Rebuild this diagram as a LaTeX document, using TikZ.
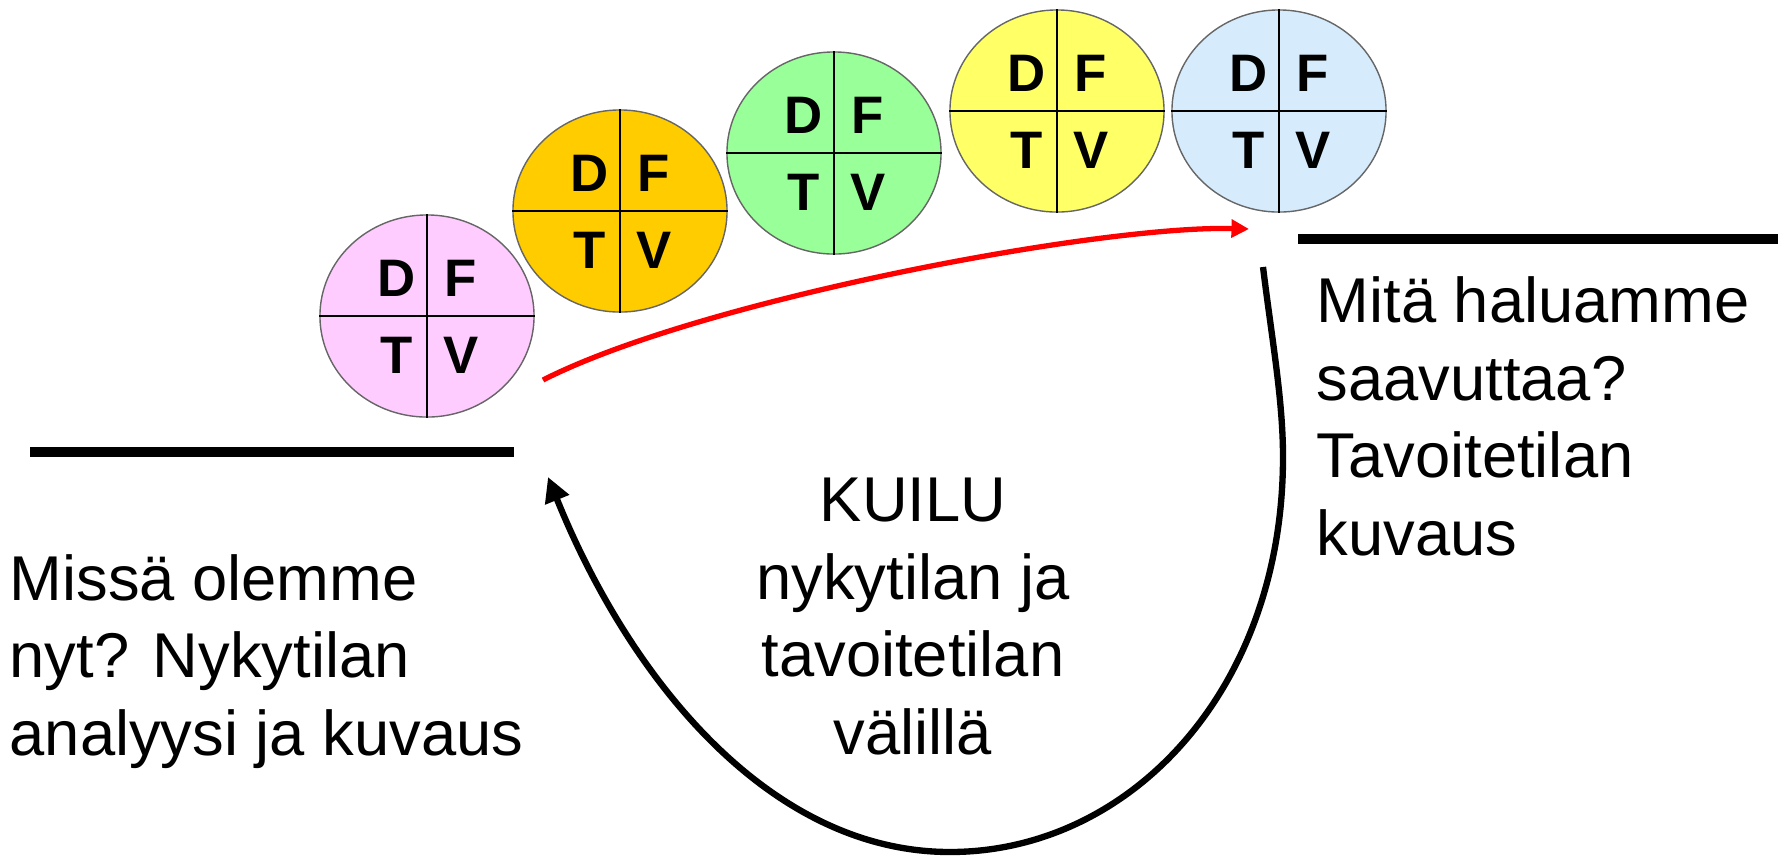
\documentclass[tikz,border=0pt]{standalone}
\usepackage{fontspec}
\setmainfont{Liberation Sans}
\usetikzlibrary{shapes.geometric,arrows.meta}
\definecolor{pinkki}{RGB}{255,204,255}
\definecolor{oranssi}{RGB}{255,204,0}
\definecolor{vihrea}{RGB}{153,255,153}
\definecolor{keltainen}{RGB}{255,255,102}
\definecolor{sininen}{RGB}{214,236,252}

\begin{document}
\begin{tikzpicture}[x=0.01cm,y=-0.01cm,
    pallo/.style={ellipse,draw=black!60,thin,minimum width=2.14cm,minimum height=2.02cm,inner sep=0pt},
    kirjain/.style={font=\fontsize{15}{18}\selectfont\bfseries,inner sep=0pt},
    teksti/.style={font=\fontsize{18}{22}\selectfont,inner sep=0pt},
    taso/.style={line width=2.6pt}]
        \useasboundingbox (0,0) rectangle (1778,857);
        \foreach \n/\x/\y/\c in {1/427/316/pinkki,2/620/211/oranssi,3/834/153/vihrea,4/1057/111/keltainen,5/1279/111/sininen}
        {
        \node[pallo,fill=\c] (p\n) at (\x,\y) {};
        \draw[thin] (p\n.north) -- (p\n.south) (p\n.west) -- (p\n.east);
        \node[kirjain] (p\n d) at ([shift={(-30,-38)}]p\n.center) {D};
        \node[kirjain] (p\n f) at ([shift={(34,-38)}]p\n.center) {F};
        \node[kirjain] (p\n t) at ([shift={(-30,39)}]p\n.center) {T};
        \node[kirjain] (p\n v) at ([shift={(34,39)}]p\n.center) {V};
        }

        \coordinate (nytA) at (30,452);
        \coordinate (nytB) at (514,452);
        \coordinate (tavA) at (1298,239);
        \coordinate (tavB) at (1778,239);
        \draw[taso] (nytA) -- (nytB);
        \draw[taso] (tavA) -- (tavB);

        \coordinate (punaA) at (543,380);
        \coordinate (punaB) at (1249,229);
        \draw[red,line width=1.5pt,-{Triangle[length=5pt,width=5pt]}]
            (punaA) .. controls (700,300) and (1100,225) .. (punaB);

        \coordinate (kuiluA) at (1263,267);
        \coordinate (kuiluB) at (548,477);
        \draw[line width=1.8pt,-{Triangle[length=7pt,width=7pt]}]
            (kuiluA) .. controls (1272,340) and (1283,400) .. (1283,457)
            .. controls (1283,690) and (1130,852) .. (950,852)
            .. controls (770,852) and (630,680) .. (kuiluB);

        \node[teksti,anchor=base west,align=left] (nyt) at (9,755) {Missä olemme\\nyt? Nykytilan\\analyysi ja kuvaus};
        \node[teksti,anchor=base west,align=left] (tavoite) at (1316,555) {Mitä haluamme\\saavuttaa?\\Tavoitetilan\\kuvaus};
        \node[teksti,anchor=base,align=center] (kuilu) at (913,754) {KUILU\\nykytilan ja\\tavoitetilan\\välillä};
\end{tikzpicture}
\end{document}
